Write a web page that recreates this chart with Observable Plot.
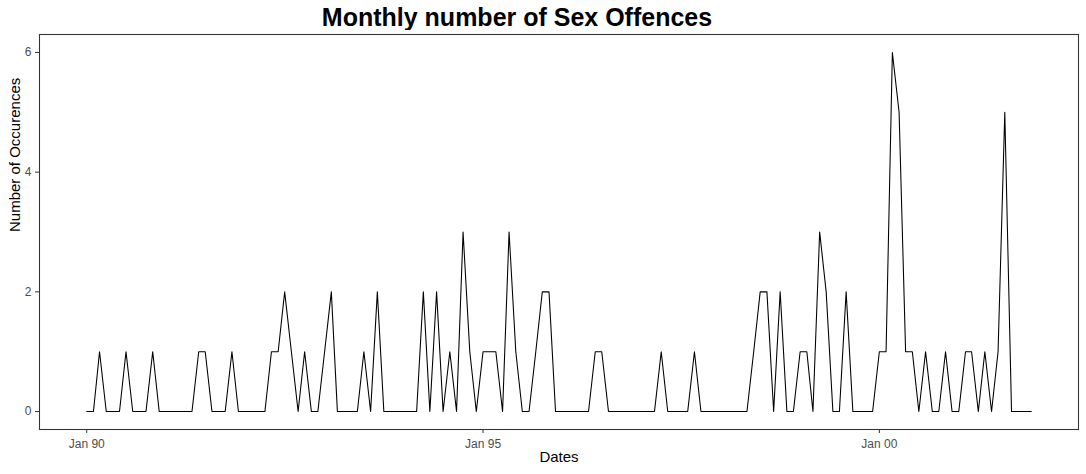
<!DOCTYPE html>
<html>
<head>
<meta charset="utf-8">
<script src="https://cdn.jsdelivr.net/npm/d3@7"></script>
<script src="https://cdn.jsdelivr.net/npm/@observablehq/plot@0.6"></script>
<style>
  body { margin: 0; background: #fff; font-family: "Liberation Sans", Arial, sans-serif; }
  #wrap { position: relative; width: 1086px; height: 474px; overflow: hidden; }
  #title { position: absolute; top: 5px; left: 0; width: 1034px; text-align: center;
           font-size: 25px; line-height: 25px; font-weight: bold; color: #000; }
  #chart { position: absolute; top: 30px; left: 0; }
  #chart g[aria-label="x-axis tick"] path, #chart g[aria-label="y-axis tick"] path { stroke: #333; }
  #chart g[aria-label="x-axis tick label"] text, #chart g[aria-label="y-axis tick label"] text { fill: #4d4d4d; }
</style>
</head>
<body>
<div id="wrap">
  <div id="title">Monthly number of Sex Offences</div>
  <div id="chart"></div>
</div>
<script>
// Monthly counts, January 1990 to December 2001
const startYear = 1990;
const counts = [
  0,0,1,0,0,0,1,0,0,0,1,0,   // 1990
  0,0,0,0,0,1,1,0,0,0,1,0,   // 1991
  0,0,0,0,1,1,2,1,0,1,0,0,   // 1992
  1,2,0,0,0,0,1,0,2,0,0,0,   // 1993
  0,0,0,2,0,2,0,1,0,3,1,0,   // 1994
  1,1,1,0,3,1,0,0,1,2,2,0,   // 1995
  0,0,0,0,0,1,1,0,0,0,0,0,   // 1996
  0,0,0,1,0,0,0,0,1,0,0,0,   // 1997
  0,0,0,0,0,1,2,2,0,2,0,0,   // 1998
  1,1,0,3,2,0,0,2,0,0,0,0,   // 1999
  1,1,6,5,1,1,0,1,0,0,1,0,   // 2000
  0,1,1,0,1,0,1,5,0,0,0,0    // 2001
];
const xTickYears = [1990, 1995, 2000];
const yTicks = [0, 2, 4, 6];
const xTitle = "Dates";
const yTitle = "Number of Occurences";

const dates = counts.map((_, i) => new Date(Date.UTC(startYear, i, 1)));
const data = dates.map((d, i) => ({date: d, count: counts[i]}));
const t0 = +dates[0], t1 = +dates[dates.length - 1];
const pad = (t1 - t0) * 0.05;
const xTicks = xTickYears.map(y => new Date(Date.UTC(y, 0, 1)));

const chart = Plot.plot({
  width: 1086,
  height: 444,
  marginTop: 4,
  marginBottom: 45,
  marginLeft: 39,
  marginRight: 8,
  style: {fontFamily: '"Liberation Sans", Arial, sans-serif', background: "#fff"},
  x: {type: "utc", domain: [new Date(t0 - pad), new Date(t1 + pad)]},
  y: {domain: [-0.3, 6.3]},
  marks: [
    Plot.axisX({ticks: xTicks, tickFormat: d3.utcFormat("%b %y"), tickSize: 4, tickPadding: 6, fontSize: 12, label: null}),
    Plot.axisY({ticks: yTicks, tickFormat: d => String(d), tickSize: 4, tickPadding: 4, fontSize: 12, label: null}),
    Plot.lineY(data, {x: "date", y: "count", stroke: "#000", strokeWidth: 1.07}),
    Plot.frame({stroke: "#333", strokeWidth: 1.07}),
    Plot.text([xTitle], {frameAnchor: "bottom", dy: 32, fontSize: 15, fill: "#000"}),
    Plot.text([yTitle], {frameAnchor: "left", dx: -24, rotate: -90, fontSize: 15, fill: "#000"})
  ]
});
document.getElementById("chart").appendChild(chart);
</script>
</body>
</html>
